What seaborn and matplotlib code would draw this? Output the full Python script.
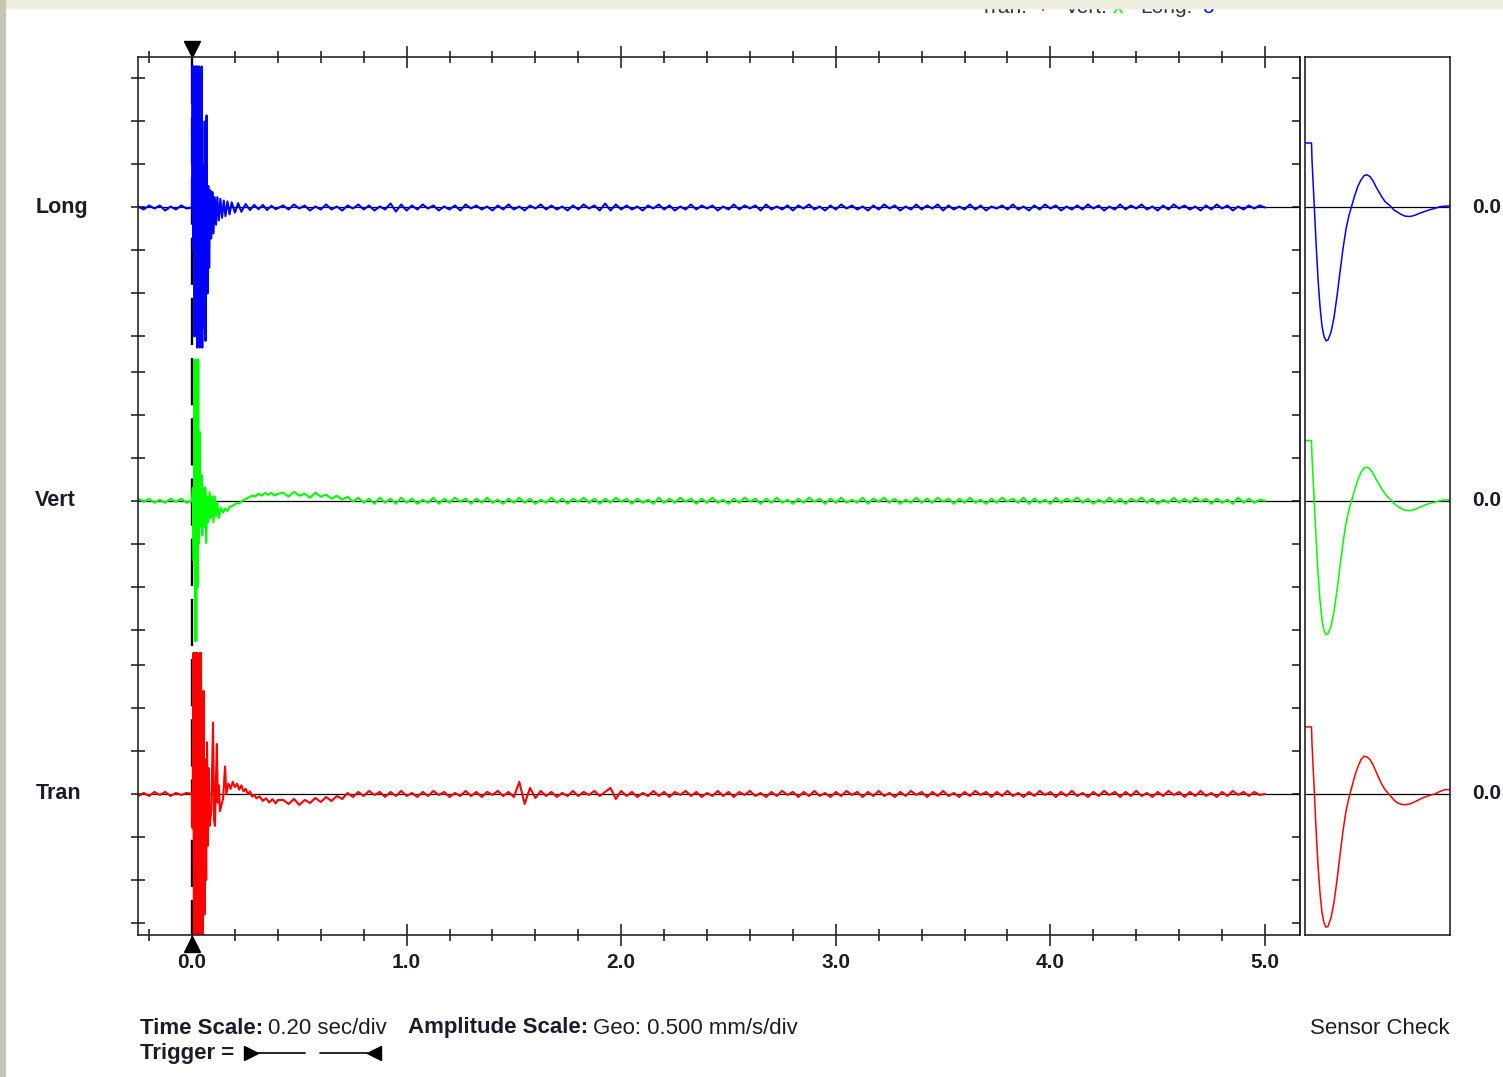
import numpy as np
import pandas as pd
import seaborn as sns
import matplotlib.pyplot as plt
from matplotlib.lines import Line2D
from matplotlib.patches import Rectangle

W, H = 1503, 1077

# Channels, top to bottom
channels = ['Long', 'Vert', 'Tran']
colors = {'Long': '#0000ff', 'Vert': '#00ff00', 'Tran': '#ff0000'}
offsets = {'Long': 3.41, 'Vert': 0.0, 'Tran': -3.41}   # mm/s between traces
clip = 1.64                                           # trace clipping, mm/s
px_per_mms = 86.0                                     # 43 px per 0.5 mm/s division

time_ticks = [0, 1, 2, 3, 4, 5]
time_labels = ['0.0', '1.0', '2.0', '3.0', '4.0', '5.0']

# Pre-trigger noise, read in screen px, one value every 0.025 s from -0.25 s
pre_long = [1, -2, 2, -1, 2, -3, 1, -2, 2, -1]
pre_vert = [2, -1, 2, -2, 1, -2, 2, -1, 2, -2]
pre_tran = [-2, 1, -2, 2, -1, 2, -2, 1, -1, 1]

# Event burst, (s, mm/s)
burst_t_long = [0.000, 0.003, 0.006, 0.009, 0.012, 0.015, 0.018, 0.021, 0.024, 0.027,
                0.030, 0.033, 0.036, 0.039, 0.042, 0.045, 0.048, 0.051, 0.055, 0.059,
                0.063, 0.068, 0.072, 0.076, 0.080, 0.085, 0.090, 0.095, 0.100, 0.106,
                0.112, 0.118, 0.125, 0.132, 0.140, 0.148, 0.156, 0.165, 0.175, 0.185,
                0.200, 0.215, 0.230, 0.250, 0.270, 0.290, 0.310, 0.330, 0.350, 0.370,
                0.390]
burst_long = [0.0, 1.64, -0.5, 1.64, -1.5, 1.64, -1.2, 1.64, -1.63, 1.64,
              -1.5, 1.64, -1.63, 1.3, -1.6, 1.64, -1.63, 0.5, -1.4, 1.0,
              -1.55, 1.07, -1.0, 0.25, -0.7, 0.2, -0.36, 0.18, -0.3, 0.12,
              -0.2, 0.12, -0.15, 0.1, -0.12, 0.08, -0.1, 0.07, -0.08, 0.06,
              -0.06, 0.05, -0.05, 0.04, -0.03, 0.03, -0.02, 0.03, -0.03, 0.02,
              -0.02]

burst_t_vert = [0.000, 0.004, 0.008, 0.011, 0.014, 0.017, 0.020, 0.023, 0.026, 0.029,
                0.032, 0.036, 0.040, 0.044, 0.048, 0.053, 0.058, 0.062, 0.066, 0.071,
                0.076, 0.082, 0.088, 0.094, 0.100, 0.106, 0.112, 0.118, 0.125, 0.135,
                0.145, 0.155, 0.165, 0.175, 0.190, 0.205, 0.220, 0.235, 0.250, 0.265,
                0.280, 0.295, 0.310, 0.325, 0.340, 0.355, 0.370, 0.385, 0.400]
burst_vert = [0.0, 0.15, -0.7, 1.64, -1.63, 1.64, -1.63, 1.64, -1.0, 1.64,
              -0.5, 0.8, -0.3, 0.3, -0.4, 0.15, -0.3, 0.15, -0.49, 0.05,
              -0.25, 0.1, -0.2, 0.05, -0.25, 0.05, -0.18, -0.02, -0.2, -0.08,
              -0.14, -0.09, -0.12, -0.07, -0.06, -0.03, -0.03, 0.0, 0.02, 0.04,
              0.06, 0.05, 0.08, 0.06, 0.09, 0.07, 0.09, 0.06, 0.08]

burst_t_tran = [0.000, 0.003, 0.006, 0.009, 0.012, 0.015, 0.018, 0.021, 0.024, 0.027,
                0.030, 0.033, 0.036, 0.039, 0.042, 0.045, 0.048, 0.051, 0.054, 0.058,
                0.062, 0.066, 0.070, 0.074, 0.078, 0.082, 0.090, 0.098, 0.103, 0.107,
                0.112, 0.116, 0.120, 0.125, 0.130, 0.145, 0.154, 0.160, 0.170, 0.180,
                0.190, 0.200, 0.210, 0.220, 0.230, 0.240, 0.250, 0.260, 0.270, 0.280,
                0.290, 0.300, 0.315, 0.330, 0.345, 0.360, 0.375, 0.390, 0.400]
burst_tran = [0.0, -0.4, 1.64, -1.63, 1.64, -1.63, 1.64, -1.63, 1.64, -1.63,
              1.3, -1.63, 1.64, -1.63, 1.64, -1.63, 0.9, -1.63, 1.2, -1.4,
              0.4, -1.0, 0.6, -0.6, 0.3, -0.37, -0.2, 0.83, -0.3, -0.37,
              0.2, 0.58, -0.1, 0.1, -0.2, -0.05, 0.32, 0.0, 0.12, 0.06,
              0.14, 0.08, 0.12, 0.05, 0.10, 0.03, 0.06, 0.0, 0.03, -0.03,
              -0.01, -0.05, -0.03, -0.08, -0.05, -0.10, -0.06, -0.11, -0.07]

# Coda, read in screen px, one value every 0.025 s from 0.425 s
tail_long = [2, -2, 3, -1, 2, -3, 1, -2, 3, -2, 1, -3, 2, -1, 3, -2, 2, -3, 1, -2,
             4, -4, 3, -3, 2, -2, 3, -1, 2, -3, 1, -2, 2, -3, 3, -1, 2, -2, 1, -3,
             2, -2, 3, -2, 1, -3, 2, -1, 3, -2, 2, -2, 1, -3, 2, -2, 3, -1, 2, -3,
             4, -3, 3, -2, 2, -2, 1, -3, 2, -1, 3, -2, 2, -3, 1, -2, 3, -2, 2, -1,
             2, -3, 1, -2, 3, -2, 2, -1, 2, -3, 3, -2, 1, -2, 2, -3, 2, -1, 3, -2,
             1, -3, 2, -2, 3, -1, 2, -2, 1, -3, 2, -2, 3, -1, 2, -3, 1, -2, 3, -2,
             2, -1, 3, -3, 2, -2, 1, -2, 3, -2, 2, -3, 1, -1, 2, -2, 3, -2, 1, -3,
             2, -2, 3, -1, 2, -3, 1, -2, 2, -2, 3, -1, 2, -3, 1, -2, 3, -2, 2, -1,
             3, -2, 1, -3, 2, -2, 3, -1, 2, -2, 1, -3, 2, -2, 3, -1, 2, -3, 1, -2,
             2, -1, 2, 0]
tail_vert = [8, 4, 9, 5, 7, 3, 8, 4, 6, 2, 5, 1, 4, -1, 3, -2, 2, -3, 3, -2,
             2, -3, 3, -2, 2, -3, 1, -2, 3, -3, 2, -2, 3, -1, 2, -3, 2, -2, 3, -2,
             1, -3, 2, -2, 3, -2, 2, -3, 1, -2, 3, -2, 2, -3, 2, -1, 3, -2, 2, -3,
             2, -2, 3, -1, 2, -3, 2, -2, 1, -3, 3, -2, 2, -2, 3, -1, 2, -3, 2, -2,
             3, -2, 1, -3, 2, -2, 3, -1, 2, -3, 2, -2, 3, -2, 1, -3, 2, -2, 3, -1,
             2, -3, 2, -2, 3, -2, 1, -2, 3, -3, 2, -1, 3, -2, 2, -3, 1, -2, 3, -2,
             2, -2, 3, -1, 2, -3, 2, -2, 3, -2, 1, -3, 2, -2, 3, -1, 2, -2, 3, -3,
             2, -2, 1, -3, 3, -2, 2, -1, 3, -2, 2, -3, 1, -2, 3, -2, 2, -3, 2, -1,
             3, -2, 2, -3, 1, -2, 3, -2, 2, -2, 3, -1, 2, -3, 2, -2, 1, -3, 3, -2,
             2, -2, 1, 0]
tail_tran = [-6, -10, -5, -11, -6, -9, -4, -8, -3, -7, -2, -5, 1, -3, 2, -2, 3, -1, 2, -3,
             2, -2, 3, -2, 1, -3, 2, -2, 3, -1, 2, -3, 1, -2, 3, -2, 2, -3, 2, -1,
             3, -2, 2, -3, 12, -10, 6, -4, 3, -2, 2, -3, 1, -2, 3, -2, 2, -1, 3, -2,
             2, 6, -5, 3, -2, 2, -3, 1, -2, 3, -2, 2, -3, 2, -1, 3, -2, 2, -3, 1,
             -2, 3, -2, 2, -3, 2, -1, 3, -2, 1, -3, 2, -2, 3, -1, 2, -3, 2, -2, 3,
             -2, 1, -3, 2, -2, 3, -1, 2, -3, 2, -2, 3, -2, 1, -3, 2, -2, 3, -1, 2,
             -3, 2, -2, 3, -2, 1, -3, 2, -2, 3, -1, 2, -3, 2, -2, 3, -2, 1, -3, 2,
             -2, 3, -1, 2, -3, 2, -2, 3, -2, 1, -3, 2, -2, 3, -1, 2, -3, 2, -2, 3,
             -2, 1, -3, 2, -2, 3, -1, 2, -3, 2, -2, 3, -2, 1, -3, 2, -2, 3, -1, 2,
             -2, 2, -1, 0]

# Sensor check response, ms and mm/s
sensor_t = [0, 6.5, 7, 9, 11, 13, 15, 17, 19, 21, 23, 26, 29, 32, 35, 38, 41, 44, 47, 50,
            53, 56, 59, 62, 65, 68, 71, 74, 77, 80, 83, 86, 89, 92, 96, 100, 105, 110,
            115, 120, 125, 130, 135, 140, 145]
sensor_long = [0.75, 0.75, 0.55, 0.08, -0.40, -0.83, -1.15, -1.38, -1.50, -1.55,
               -1.54, -1.45, -1.28, -1.03, -0.75, -0.48, -0.25, -0.09, 0.03, 0.15,
               0.25, 0.32, 0.37, 0.38, 0.36, 0.31, 0.24, 0.18, 0.12, 0.07,
               0.04, 0.01, -0.03, -0.05, -0.08, -0.10, -0.105, -0.09, -0.065, -0.045,
               -0.025, -0.01, 0.01, 0.015, 0.02]
sensor_vert = [0.70, 0.70, 0.50, 0.05, -0.42, -0.84, -1.16, -1.39, -1.51, -1.555,
               -1.545, -1.46, -1.29, -1.04, -0.76, -0.49, -0.26, -0.10, 0.02, 0.14,
               0.25, 0.33, 0.38, 0.39, 0.37, 0.32, 0.25, 0.19, 0.13, 0.08,
               0.04, 0.01, -0.03, -0.06, -0.09, -0.11, -0.115, -0.10, -0.075, -0.05,
               -0.03, -0.015, 0.0, 0.01, 0.01]
sensor_tran = [0.78, 0.78, 0.58, 0.10, -0.40, -0.83, -1.15, -1.38, -1.50, -1.55,
               -1.54, -1.44, -1.26, -1.00, -0.71, -0.43, -0.20, -0.04, 0.09, 0.22,
               0.32, 0.40, 0.44, 0.43, 0.40, 0.34, 0.26, 0.18, 0.11, 0.05,
               0.01, -0.03, -0.07, -0.10, -0.12, -0.125, -0.115, -0.09, -0.06, -0.035,
               -0.015, 0.0, 0.03, 0.05, 0.05]


def build_trace(name, pre, bt, bv, tail):
    t = np.concatenate([-0.25 + 0.025 * np.arange(len(pre)), bt,
                        0.425 + 0.025 * np.arange(len(tail))])
    v = np.concatenate([np.array(pre) / px_per_mms, bv, np.array(tail) / px_per_mms])
    v = np.clip(v, -clip, clip) + offsets[name]
    return pd.DataFrame({'time': t, 'amp': v, 'channel': name})


df = pd.concat([
    build_trace('Long', pre_long, burst_t_long, burst_long, tail_long),
    build_trace('Vert', pre_vert, burst_t_vert, burst_vert, tail_vert),
    build_trace('Tran', pre_tran, burst_t_tran, burst_tran, tail_tran),
])
df_sensor = pd.concat([
    pd.DataFrame({'time': sensor_t, 'amp': np.array(vals) + offsets[name], 'channel': name})
    for name, vals in zip(channels, [sensor_long, sensor_vert, sensor_tran])
])

sns.set_style('white')
plt.rcParams['font.family'] = ['Liberation Sans', 'DejaVu Sans']
plt.rcParams['axes.linewidth'] = 1.2

fig = plt.figure(figsize=(W / 100, H / 100), dpi=100)
ylim = (-5.05, 5.16)
xlim = (-0.2516, 5.163)
dark = '#1c1c28'

# Main record
ax = fig.add_axes([138 / W, 1 - 935 / H, (1300 - 138) / W, 878 / H])
for name in channels:
    ax.axhline(offsets[name], color='black', lw=0.9, zorder=1)
ax.plot([0, 0], [ylim[1], ylim[0]], color='black', lw=1.7, dashes=(20, 5.5), zorder=1.5)
sns.lineplot(data=df, x='time', y='amp', hue='channel', palette=colors,
             estimator=None, sort=False, legend=False, lw=1.5, ax=ax, zorder=2)
ax.set_xlim(xlim)
ax.set_ylim(ylim)
ax.set_xlabel('')
ax.set_ylabel('')

minor = [x for x in np.round(np.arange(-0.2, 5.05, 0.2), 1) if x != round(x)]
ax.set_xticks(time_ticks)
ax.set_xticks(minor, minor=True)
ax.set_xticklabels(time_labels, fontsize=15, fontweight='bold', color=dark)
ax.tick_params(axis='x', which='both', top=True, bottom=True, direction='inout', width=1.2)
ax.tick_params(axis='x', which='major', length=16, pad=5)
ax.tick_params(axis='x', which='minor', length=9)

yt = sorted(offsets[n] + k * 0.5 for n in channels for k in range(-3, 4))
ax.set_yticks(yt)
ax.set_yticklabels([])
ax.tick_params(axis='y', left=True, direction='inout', length=10, width=1.2)
sec = ax.secondary_yaxis('right')
sec.set_yticks(yt)
sec.set_yticklabels([])
sec.tick_params(direction='in', length=6, width=1.2)

# Trigger markers
ax.plot([0], [1.0091], marker='v', ms=11, color='black', clip_on=False,
        transform=ax.get_xaxis_transform())
ax.plot([0], [-0.0097], marker='^', ms=11, color='black', clip_on=False,
        transform=ax.get_xaxis_transform())

for name in channels:
    ax.text(-0.73, offsets[name], name, ha='left', va='center', fontsize=15.5,
            fontweight='bold', color=dark, clip_on=False)
    ax.text(5.964, offsets[name], '0.0', ha='left', va='center', fontsize=15,
            fontweight='bold', color=dark, clip_on=False)

# Sensor check panel
ax2 = fig.add_axes([1305 / W, 1 - 935 / H, 145 / W, 878 / H])
for name in channels:
    ax2.axhline(offsets[name], color='black', lw=0.9, zorder=1)
sns.lineplot(data=df_sensor, x='time', y='amp', hue='channel', palette=colors,
             estimator=None, sort=False, legend=False, lw=1.1, ax=ax2, zorder=2)
ax2.set_xlim(0, 145)
ax2.set_ylim(ylim)
ax2.set_xticks([])
ax2.set_yticks([])
ax2.set_xlabel('')
ax2.set_ylabel('')

# Footer
txt = dict(fontsize=16, va='center', color=dark)
fig.text(140 / W, 1 - 1028 / H, 'Time Scale:', fontweight='bold', **txt)
fig.text(268 / W, 1 - 1028 / H, '0.20 sec/div', **txt)
fig.text(408 / W, 1 - 1028 / H, 'Amplitude Scale:', fontweight='bold', **txt)
fig.text(593 / W, 1 - 1028 / H, 'Geo: 0.500 mm/s/div', **txt)
fig.text(140 / W, 1 - 1054 / H, 'Trigger =', fontweight='bold', **txt)
fig.text(1450 / W, 1 - 1028 / H, 'Sensor Check', ha='right', **txt)
yt_trig = 1 - 1053 / H
fig.add_artist(Line2D([251 / W, 305 / W], [yt_trig, yt_trig], color='black', lw=1.2,
                      marker='>', ms=10, markevery=[0]))
fig.add_artist(Line2D([320 / W, 374 / W], [yt_trig, yt_trig], color='black', lw=1.2,
                      marker='<', ms=10, markevery=[1]))

# Header key (mostly hidden under the viewer bar)
hy = 1 - 13 / H
hk = dict(fontsize=15, va='baseline', zorder=2)
fig.text(980 / W, hy, 'Tran:', color='#333340', **hk)
fig.text(1037 / W, hy, '+', color='#ff0000', **hk)
fig.text(1065 / W, hy, 'Vert:', color='#333340', **hk)
fig.text(1113 / W, hy, 'x', color='#00ff00', **hk)
fig.text(1140 / W, hy, 'Long:', color='#333340', **hk)
fig.text(1202 / W, hy, 'o', color='#0000ff', **hk)

# Viewer chrome around the page
fig.add_artist(Rectangle((0, 1 - 8 / H), 1, 8 / H, transform=fig.transFigure,
                         color='#efece0', zorder=10))
fig.add_artist(Rectangle((0, 0), 5 / W, 1, transform=fig.transFigure,
                         color='#c8c4b6', zorder=10))

fig.savefig('out.png', dpi=100)
plt.close(fig)
